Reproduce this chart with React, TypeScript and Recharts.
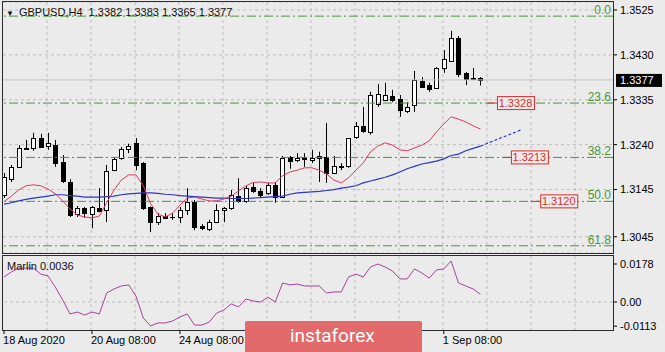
import React from 'react';
import { ComposedChart, Bar, Line, XAxis, YAxis, CartesianGrid, ReferenceLine } from 'recharts';

// GBPUSD H4 candles, bar 0 = 18 Aug 2020
const opens = [1.3134, 1.3167, 1.3193, 1.3233, 1.3233, 1.3254, 1.3237, 1.3239, 1.3203, 1.3161,
  1.3093, 1.3106, 1.3093, 1.3106, 1.3102, 1.3186, 1.3212, 1.3231, 1.3244, 1.3201,
  1.3108, 1.3076, 1.3088, 1.3087, 1.3087, 1.3102, 1.3119, 1.3068, 1.3061, 1.3076,
  1.3102, 1.3106, 1.3131, 1.3121, 1.3150, 1.3142, 1.3138, 1.3155, 1.3129, 1.3214,
  1.3208, 1.3214, 1.3208, 1.3212, 1.3214, 1.3180, 1.3193, 1.3195, 1.3256, 1.3280,
  1.3267, 1.3326, 1.3335, 1.3343, 1.3337, 1.3311, 1.3324, 1.3375, 1.3366, 1.3360,
  1.3402, 1.3417, 1.3466, 1.3392, 1.3381, 1.3382];
const highs = [1.3180, 1.3197, 1.3239, 1.3250, 1.3265, 1.3263, 1.3265, 1.3250, 1.3218, 1.3167,
  1.3110, 1.3108, 1.3110, 1.3148, 1.3197, 1.3214, 1.3235, 1.3242, 1.3254, 1.3203,
  1.3109, 1.3095, 1.3095, 1.3095, 1.3108, 1.3148, 1.3123, 1.3072, 1.3081, 1.3114,
  1.3108, 1.3144, 1.3169, 1.3153, 1.3159, 1.3148, 1.3159, 1.3161, 1.3216, 1.3216,
  1.3222, 1.3222, 1.3229, 1.3225, 1.3286, 1.3216, 1.3201, 1.3254, 1.3288, 1.3320,
  1.3352, 1.3368, 1.3371, 1.3356, 1.3345, 1.3330, 1.3396, 1.3383, 1.3371, 1.3404,
  1.3440, 1.3481, 1.3470, 1.3394, 1.3402, 1.3383];
const lows = [1.3127, 1.3161, 1.3191, 1.3229, 1.3227, 1.3233, 1.3229, 1.3193, 1.3159, 1.3087,
  1.3087, 1.3085, 1.3063, 1.3097, 1.3076, 1.3184, 1.3208, 1.3222, 1.3186, 1.3102,
  1.3055, 1.3070, 1.3085, 1.3081, 1.3074, 1.3091, 1.3059, 1.3059, 1.3057, 1.3074,
  1.3076, 1.3102, 1.3117, 1.3117, 1.3138, 1.3129, 1.3134, 1.3117, 1.3127, 1.3189,
  1.3203, 1.3193, 1.3201, 1.3161, 1.3159, 1.3180, 1.3186, 1.3191, 1.3252, 1.3265,
  1.3261, 1.3320, 1.3332, 1.3330, 1.3299, 1.3307, 1.3309, 1.3360, 1.3352, 1.3358,
  1.3392, 1.3415, 1.3383, 1.3366, 1.3379, 1.3365];
const closes = [1.3172, 1.3193, 1.3233, 1.3231, 1.3254, 1.3235, 1.3244, 1.3201, 1.3163, 1.3091,
  1.3106, 1.3095, 1.3108, 1.3100, 1.3184, 1.3210, 1.3231, 1.3237, 1.3197, 1.3106,
  1.3076, 1.3089, 1.3085, 1.3086, 1.3102, 1.3119, 1.3065, 1.3063, 1.3076, 1.3102,
  1.3106, 1.3134, 1.3121, 1.3148, 1.3142, 1.3134, 1.3155, 1.3129, 1.3212, 1.3205,
  1.3212, 1.3210, 1.3212, 1.3216, 1.3180, 1.3195, 1.3195, 1.3254, 1.3280, 1.3269,
  1.3345, 1.3347, 1.3345, 1.3335, 1.3313, 1.3320, 1.3377, 1.3362, 1.3358, 1.3402,
  1.3421, 1.3466, 1.3390, 1.3379, 1.3380, 1.3377];

// moving averages
const redMa = [1.3119, 1.3131, 1.3144, 1.3153, 1.3155, 1.3153, 1.3146, 1.3136, 1.3121, 1.3104,
  1.3091, 1.3087, 1.3085, 1.3089, 1.3117, 1.3144, 1.3165, 1.3176, 1.3176, 1.3153,
  1.3115, 1.3093, 1.3087, 1.3095, 1.3112, 1.3127, 1.3129, 1.3125, 1.3121, 1.3121,
  1.3125, 1.3131, 1.3142, 1.3153, 1.3160, 1.3161, 1.3159, 1.3159, 1.3174, 1.3182,
  1.3186, 1.3191, 1.3191, 1.3186, 1.3178, 1.3165, 1.3159, 1.3170, 1.3186, 1.3201,
  1.3225, 1.3237, 1.3244, 1.3239, 1.3229, 1.3227, 1.3233, 1.3239, 1.3248, 1.3267,
  1.3284, 1.3299, 1.3294, 1.3288, 1.3280, 1.3273];
const blueMa = [1.3114, 1.3117, 1.3121, 1.3124, 1.3127, 1.3129, 1.3131, 1.3134, 1.3134, 1.3132,
  1.3131, 1.3129, 1.3129, 1.3129, 1.3130, 1.3131, 1.3134, 1.3136, 1.3137, 1.3138,
  1.3138, 1.3137, 1.3135, 1.3134, 1.3132, 1.3131, 1.3130, 1.3129, 1.3128, 1.3127,
  1.3127, 1.3126, 1.3126, 1.3126, 1.3127, 1.3128, 1.3129, 1.3130, 1.3131, 1.3135,
  1.3138, 1.3139, 1.3140, 1.3141, 1.3143, 1.3145, 1.3148, 1.3150, 1.3153, 1.3159,
  1.3163, 1.3167, 1.3171, 1.3176, 1.3182, 1.3189, 1.3194, 1.3199, 1.3202, 1.3205,
  1.3210, 1.3217, 1.3220, 1.3227, 1.3232, 1.3237];
// dotted extension of the blue MA (bar index, price)
const projBars = [65, 70.5];
const projPrices = [1.3237, 1.3271];

const marlin = [0.0117, 0.0141, 0.0159, 0.0159, 0.0159, 0.0131, 0.0122, 0.0070, 0.0010, -0.0056,
  -0.0047, -0.0061, -0.0047, -0.0056, 0.0042, 0.0061, 0.0075, 0.0080, 0.0028, -0.0075,
  -0.0112, -0.0098, -0.0098, -0.0089, -0.0070, -0.0056, -0.0108, -0.0108, -0.0094, -0.0052,
  -0.0037, -0.0009, -0.0023, 0.0014, 0.0005, 0.0000, 0.0023, 0.0000, 0.0089, 0.0080,
  0.0084, 0.0075, 0.0075, 0.0075, 0.0042, 0.0047, 0.0047, 0.0117, 0.0131, 0.0117,
  0.0164, 0.0178, 0.0164, 0.0145, 0.0108, 0.0108, 0.0155, 0.0136, 0.0112, 0.0150,
  0.0155, 0.0192, 0.0089, 0.0075, 0.0061, 0.0036];

const fibNames = ['0.0', '23.6', '38.2', '50.0', '61.8'];
const fibPrices = [1.3512, 1.3328, 1.3213, 1.3120, 1.3026];

const tagPrices = [1.3328, 1.3213, 1.3120];
const tagFrom = [65.9, 68.1, 71.9];
const tagTo = [72.3, 74.2, 78.2];

const priceTicks = [1.3525, 1.343, 1.3335, 1.324, 1.3145, 1.3045];
const marlinTicks = [0.0178, 0, -0.0113];
// the two labels under the watermark are not visible in the picture
const dateBars = [0, 12, 24, 60];
const dateLabels = ['18 Aug 2020', '20 Aug 08:00', '24 Aug 08:00', '1 Sep 08:00'];

const lastPrice = 1.3377;

const BG = '#ebebeb';
const GRID = '#bdbdbd';
const FIB = '#4c953f';
const TAG = '#dd2c2c';
const FONT = '"Liberation Sans", Arial, sans-serif';
const X_DOMAIN = [-0.14, 83.08];

const mainData: any[] = opens.map((o, i) => ({
  i,
  open: o,
  high: highs[i],
  low: lows[i],
  close: closes[i],
  range: [lows[i], highs[i]],
  red: redMa[i],
  blue: blueMa[i],
  proj: i === projBars[0] ? projPrices[0] : undefined,
}));
mainData.push({ i: projBars[1], proj: projPrices[1] });

const marlinData = marlin.map((m, i) => ({ i, m }));

const vGrid = Array.from({ length: 13 }, (_, k) => 3 + 44 * (k + 1));

const Candle = (props: any) => {
  const { x, y, width, height, payload } = props;
  if (!payload || payload.open == null) return null;
  const top = Math.min(y, y + height);
  const h = Math.abs(height);
  const { open, close, high, low } = payload;
  const toY = (p: number) => top + ((high - p) / (high - low)) * h;
  const cx = Math.round(x + width / 2) + 0.5;
  const up = close >= open;
  const bTop = Math.round(toY(Math.max(open, close)));
  const bBot = Math.round(toY(Math.min(open, close)));
  return (
    <g>
      <line x1={cx} x2={cx} y1={top} y2={top + h} stroke="#000" strokeWidth={1} />
      <rect x={cx - 2} y={bTop + 0.5} width={4} height={Math.max(0.01, bBot - bTop)}
        fill={up ? '#fff' : '#000'} stroke="#000" strokeWidth={1} />
    </g>
  );
};

const fibLabel = (text: string) => (props: any) => {
  const vb = props.viewBox;
  return (
    <text x={vb.x + vb.width - 2} y={vb.y - 2} textAnchor="end" fill={FIB} fontSize={12} fontFamily={FONT}>
      {text}
    </text>
  );
};

const tagLabel = (text: string) => (props: any) => {
  const vb = props.viewBox;
  const right = vb.x + vb.width;
  const w = 37;
  return (
    <g>
      <rect x={right - w + 0.5} y={vb.y - 6.5} width={w} height={13} fill={BG} stroke={TAG} strokeWidth={1} />
      <text x={right - w / 2} y={vb.y + 4} textAnchor="middle" fill={TAG} fontSize={11} fontFamily={FONT}>
        {text}
      </text>
    </g>
  );
};

const lastLabel = (props: any) => {
  const vb = props.viewBox;
  const left = vb.x + vb.width + 3;
  return (
    <g>
      <rect x={left} y={vb.y - 6} width={46} height={13} fill="#000" />
      <text x={left + 4} y={vb.y + 4} fill="#fff" fontSize={11} fontFamily={FONT}>
        {lastPrice.toFixed(4)}
      </text>
    </g>
  );
};

const DateTick = (props: any) => {
  const { x, y, payload } = props;
  const k = dateBars.indexOf(payload.value);
  return (
    <text x={x - 1} y={y} dy="0.75em" textAnchor="start" fill="#000" fontSize={11} fontFamily={FONT}>
      {k >= 0 ? dateLabels[k] : ''}
    </text>
  );
};

const tickStyle = { fontSize: 11, fill: '#000', fontFamily: FONT };

export default function App() {
  return (
    <div style={{ position: 'fixed', left: 0, top: 0, width: 665, height: 352, background: BG, overflow: 'hidden', fontFamily: FONT }}>
      <div style={{ position: 'absolute', left: 0, top: 0 }}>
        <ComposedChart width={665} height={254} data={mainData} margin={{ top: 2, right: 0, left: 3, bottom: 1 }}>
          <CartesianGrid stroke={GRID} strokeDasharray="3 3" verticalPoints={vGrid} />
          <XAxis dataKey="i" type="number" domain={X_DOMAIN} allowDataOverflow hide />
          <YAxis orientation="right" type="number" width={52} domain={[1.30107, 1.35419]} allowDataOverflow
            ticks={priceTicks} interval={0} tickFormatter={(v: number) => v.toFixed(4)}
            axisLine={false} tickSize={4} tickMargin={3} tickLine={{ stroke: '#000' }} tick={tickStyle} />
          {fibPrices.map((p, k) => (
            <ReferenceLine key={'f' + k} y={p} stroke={FIB} strokeWidth={1} strokeDasharray="9 3 2 3" label={fibLabel(fibNames[k])} />
          ))}
          <ReferenceLine y={lastPrice} stroke="#c4c4c4" strokeWidth={1} label={lastLabel} />
          <Line dataKey="blue" type="linear" stroke="#2f35c8" strokeWidth={1.2} dot={false} activeDot={false} isAnimationActive={false} />
          <Line dataKey="proj" type="linear" stroke="#2f35c8" strokeWidth={1.2} strokeDasharray="3 2" dot={false} activeDot={false} isAnimationActive={false} />
          <Line dataKey="red" type="linear" stroke="#dc3a5c" strokeWidth={1} dot={false} activeDot={false} isAnimationActive={false} />
          <Bar dataKey="range" barSize={5} shape={Candle} isAnimationActive={false} />
          {tagPrices.map((p, k) => (
            <ReferenceLine key={'t' + k} segment={[{ x: tagFrom[k], y: p }, { x: tagTo[k], y: p }]}
              stroke={TAG} strokeWidth={1} label={tagLabel(p.toFixed(4))} />
          ))}
        </ComposedChart>
      </div>
      <div style={{ position: 'absolute', left: 0, top: 0 }}>
        <ComposedChart width={665} height={352} data={marlinData} margin={{ top: 256, right: 0, left: 3, bottom: 0 }}>
          <CartesianGrid stroke={GRID} strokeDasharray="3 3" verticalPoints={vGrid} horizontal={false} />
          <XAxis dataKey="i" type="number" domain={X_DOMAIN} allowDataOverflow ticks={dateBars} interval={0}
            height={22} axisLine={false} tickSize={4} tickMargin={2} tickLine={{ stroke: '#000' }} tick={<DateTick />} />
          <YAxis orientation="right" type="number" width={52} domain={[-0.01311, 0.02155]} allowDataOverflow
            ticks={marlinTicks} interval={0} tickFormatter={(v: number) => (v === 0 ? '0.00' : v.toFixed(4))}
            axisLine={false} tickSize={4} tickMargin={3} tickLine={{ stroke: '#000' }} tick={tickStyle} />
          <ReferenceLine y={0} stroke={GRID} strokeDasharray="3 3" />
          <Line dataKey="m" type="linear" stroke="#a8409f" strokeWidth={1} dot={false} activeDot={false} isAnimationActive={false} />
        </ComposedChart>
      </div>
      {/* panel borders */}
      <div style={{ position: 'absolute', left: 2, top: 1, width: 612, height: 253, border: '1px solid #2b2b2b', boxSizing: 'border-box', pointerEvents: 'none' }} />
      <div style={{ position: 'absolute', left: 2, top: 255, width: 612, height: 76, border: '1px solid #2b2b2b', boxSizing: 'border-box', pointerEvents: 'none' }} />
      {/* titles */}
      <div style={{ position: 'absolute', left: 6, top: 5, fontSize: 11, color: '#111', whiteSpace: 'pre', lineHeight: '14px' }}>
        <span style={{ fontSize: 8, marginRight: 5 }}>▼</span>GBPUSD,H4  1.3382 1.3383 1.3365 1.3377
      </div>
      <div style={{ position: 'absolute', left: 7, top: 259, fontSize: 11, color: '#111', whiteSpace: 'pre', lineHeight: '14px' }}>
        Marlin 0.0036
      </div>
      {/* watermark banner */}
      <div style={{ position: 'absolute', left: 245, top: 321, width: 177, height: 40, background: '#e36a6a', borderRadius: 2,
        color: '#fff', fontFamily: 'Roboto, sans-serif', fontSize: 19, lineHeight: '30px', paddingLeft: 45, boxSizing: 'border-box' }}>
        instaforex
      </div>
    </div>
  );
}
